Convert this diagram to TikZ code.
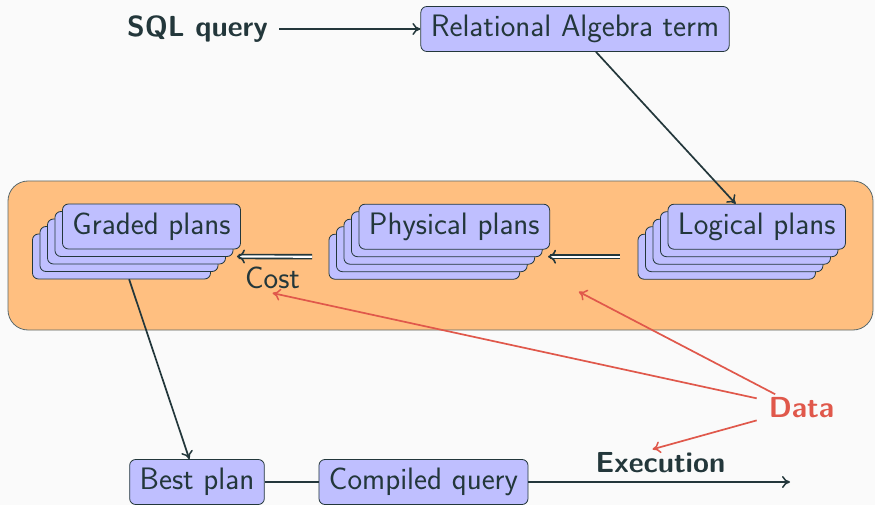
\documentclass[tikz,border=0pt]{standalone}
\usepackage{fontspec}
\usetikzlibrary{shadows,calc,arrows.meta}
\definecolor{bgc}{HTML}{FAFAFA}
\definecolor{fg}{HTML}{23373B}
\definecolor{nodefill}{HTML}{BFBFFF}
\definecolor{boxorange}{HTML}{FFBF80}
\definecolor{redc}{HTML}{E0584B}
\tikzset{
  box/.style={draw=fg, fill=nodefill, rounded corners=6pt, line width=0.8pt,
    inner xsep=10pt, inner ysep=0pt, text height=22pt, text depth=7pt, minimum height=45pt},
  shcopy/.style={copy shadow={shadow xshift=-#1pt, shadow yshift=-#1pt, draw=fg, fill=nodefill, line width=0.8pt}},
  stack/.style={box, shcopy=30, shcopy=22.5, shcopy=15, shcopy=7.5},
  ghost/.style={inner sep=0pt, minimum height=45pt, minimum width=#1},
  tip/.style={-{Computer Modern Rightarrow[length=8pt, width=12pt, line width=1.5pt]}},
  arr/.style={tip, line width=1.7pt, draw=fg},
  redarr/.style={tip, line width=1.7pt, draw=redc},
  dbl/.style={-{Computer Modern Rightarrow[length=8pt, width=14pt]}, draw=fg, line width=1.6pt, double=white, double distance=2.2pt},
  boldtxt/.style={font=\sffamily\bfseries\fontsize{29}{34}\selectfont}
}
\begin{document}
\begin{tikzpicture}[x=1pt, y=-1pt, font=\sffamily\fontsize{31}{37}\selectfont, text=fg]
\fill[bgc] (0,0) rectangle (875,505);
\useasboundingbox (0,0) rectangle (875,505);
\draw[draw=fg!75, fill=boxorange, rounded corners=20pt, line width=0.8pt] (8,181) rectangle (873,330);

\node[boldtxt, inner xsep=11pt] (sql) at (197.5,29) {SQL query};
\node[box] (rel) at (575,29) {Relational Algebra term};

\node[stack] (graded) at (151.5,226.5) {Graded plans};
\node[ghost=178pt] (gback) at (121.5,256.5) {};
\node[stack] (phys) at (454.3,226.7) {Physical plans};
\node[ghost=190pt] (pback) at (424.3,256.7) {};
\node[stack] (logic) at (756.7,226.7) {Logical plans};
\node[ghost=177pt] (lback) at (726.7,256.7) {};

\node[inner sep=4pt] (cost) at (272.5,278) {Cost};
\node[boldtxt, text=redc, inner xsep=12pt] (data) at (801.5,408) {Data};
\node[boldtxt] (exec) at (660.5,463) {Execution};

\node[box] (best) at (197,482) {Best plan};
\node[box] (comp) at (423.5,482) {Compiled query};
\coordinate (outend) at (790,482);

\draw[arr] (sql) -- (rel);
\draw[arr] (rel) -- (logic);
\draw[dbl] ([xshift=-18pt]lback.west) -- ($(phys.east |- pback.center)+(-2,0)$);
\draw[dbl] ([xshift=-17pt]pback.west) -- ($(graded.east |- gback.center)+(-4,0)$);
\draw[arr] (gback) -- (best);
\draw[line width=1.7pt, draw=fg] (best) -- (comp);
\draw[arr] (comp) -- (outend);

\draw[redarr] (data) -- (cost.south);
\draw[redarr, shorten >=91pt] (data) -- (phys);
\draw[redarr] (data) -- ([xshift=-8pt]exec.north);
\end{tikzpicture}
\end{document}
